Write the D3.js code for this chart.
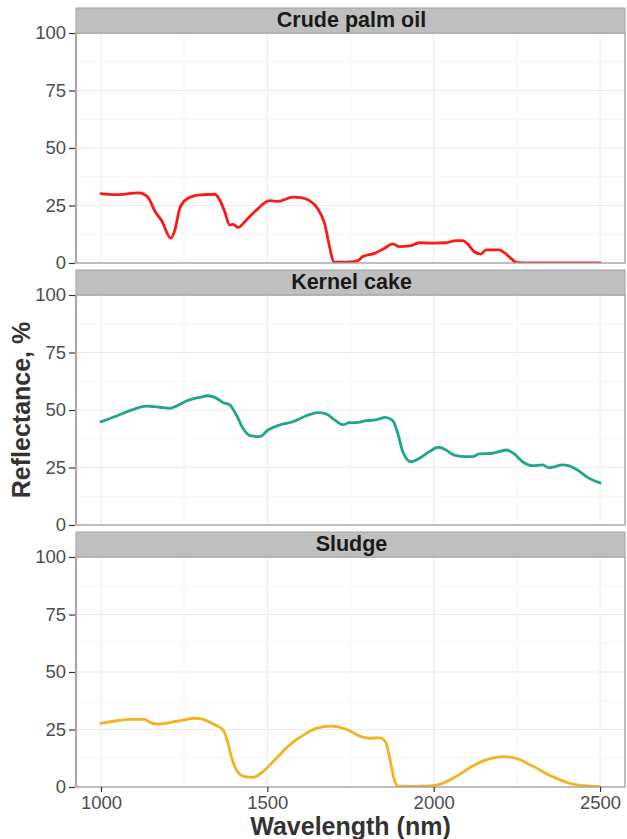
<!DOCTYPE html>
<html>
<head>
<meta charset="utf-8">
<script src="https://cdn.jsdelivr.net/npm/d3@7"></script>
<style>
  html, body { margin: 0; padding: 0; background: #fff; }
  svg { display: block; font-family: "Liberation Sans", Arial, sans-serif; }
</style>
</head>
<body>
<svg id="chart" width="627" height="839"></svg>
<script>
// Reflectance spectra (%) by wavelength (nm) for three palm oil mill samples
const panelNames = ["Crude palm oil", "Kernel cake", "Sludge"];
const panelColors = ["#fb1a17", "#20a68b", "#f2b321"];

const cpoWavelength = [1000, 1040, 1115, 1140, 1165, 1182, 1210, 1222, 1237, 1257, 1297, 1342, 1357, 1372, 1387, 1397, 1412, 1437, 1467, 1507, 1532, 1577, 1600, 1627, 1652, 1672, 1687, 1700, 1745, 1772, 1787, 1822, 1852, 1877, 1897, 1927, 1957, 1997, 2037, 2067, 2087, 2102, 2122, 2142, 2157, 2197, 2212, 2232, 2250, 2300, 2400, 2500];
const cpoReflectance = [30.2, 29.7, 30.5, 28.8, 21.8, 18.5, 10.8, 14.3, 23.8, 27.7, 29.6, 29.9, 27.4, 22.3, 16.5, 16.8, 15.5, 18.7, 23.0, 27.1, 26.8, 28.6, 28.4, 27.1, 23.5, 17.2, 7.1, 0.4, 0.4, 1.0, 2.8, 4.2, 6.4, 8.3, 7.1, 7.4, 8.8, 8.6, 8.8, 9.7, 9.7, 8.3, 4.9, 3.9, 5.7, 5.7, 4.5, 2.0, 0.2, 0, 0, 0];

const kcWavelength = [1000, 1047, 1087, 1137, 1177, 1207, 1227, 1257, 1297, 1322, 1342, 1367, 1387, 1407, 1427, 1452, 1477, 1502, 1537, 1577, 1617, 1652, 1677, 1702, 1727, 1747, 1767, 1797, 1827, 1855, 1877, 1892, 1907, 1932, 1957, 1987, 2015, 2037, 2062, 2097, 2117, 2137, 2177, 2219, 2242, 2267, 2297, 2327, 2347, 2387, 2407, 2432, 2462, 2500];
const kcReflectance = [44.9, 47.4, 49.7, 51.7, 51.2, 50.7, 51.7, 53.9, 55.5, 56.2, 55.5, 53.3, 52.2, 47.8, 42.0, 38.7, 38.4, 41.3, 43.5, 44.9, 47.5, 48.9, 48.3, 45.7, 43.6, 44.5, 44.5, 45.4, 45.7, 46.8, 45.4, 39.9, 31.9, 27.5, 29.0, 31.9, 33.8, 32.6, 30.4, 29.7, 29.7, 30.9, 31.2, 32.6, 30.9, 27.5, 25.8, 26.1, 24.9, 26.1, 25.7, 23.9, 20.7, 18.3];

const slWavelength = [1000, 1047, 1087, 1132, 1147, 1167, 1207, 1247, 1282, 1307, 1337, 1367, 1382, 1392, 1407, 1432, 1457, 1487, 1522, 1567, 1617, 1647, 1692, 1737, 1782, 1807, 1837, 1855, 1867, 1882, 1892, 1950, 1997, 2027, 2067, 2117, 2167, 2212, 2247, 2297, 2357, 2417, 2467, 2500];
const slReflectance = [27.7, 28.8, 29.4, 29.4, 28.1, 27.4, 28.0, 29.1, 29.9, 29.4, 27.4, 24.8, 19.0, 13.2, 7.4, 4.5, 4.2, 6.7, 11.7, 18.3, 23.3, 25.5, 26.5, 25.1, 21.9, 21.2, 21.4, 19.7, 13.2, 3.0, 0.4, 0.3, 0.6, 1.6, 4.5, 9.1, 12.2, 13.2, 12.5, 9.1, 4.5, 1.3, 0.4, 0.2];

const xTicks = [1000, 1500, 2000, 2500];
const xMinorTicks = [1250, 1750, 2250];
const yTicks = [0, 25, 50, 75, 100];
const yMinorTicks = [12.5, 37.5, 62.5, 87.5];

const series = [
  { w: cpoWavelength, r: cpoReflectance },
  { w: kcWavelength, r: kcReflectance },
  { w: slWavelength, r: slReflectance }
];

const svg = d3.select("#chart");
const left = 76, right = 625;
const stripH = 25, plotH = 230, panelStep = 262, top0 = 8;
const tickFont = 18.5;

const x = d3.scaleLinear().domain([925, 2575]).range([left, right]);

panelNames.forEach((name, i) => {
  const stripTop = top0 + i * panelStep;
  const pTop = stripTop + stripH;
  const pBot = pTop + plotH;
  const y = d3.scaleLinear().domain([0, 100]).range([pBot, pTop]);
  const g = svg.append("g");

  // strip
  g.append("rect").attr("x", left).attr("y", stripTop).attr("width", right - left).attr("height", stripH)
    .attr("fill", "#bfbfbf").attr("stroke", "#a3a3a3").attr("stroke-width", 1);
  g.append("text").attr("x", (left + right) / 2 + 1).attr("y", stripTop + 19)
    .attr("text-anchor", "middle").attr("font-weight", "bold").attr("font-size", 21.5)
    .attr("fill", "#1a1a1a").text(name);

  // grid
  g.selectAll(".ymin").data(yMinorTicks).join("line")
    .attr("x1", left).attr("x2", right).attr("y1", d => y(d)).attr("y2", d => y(d))
    .attr("stroke", "#f4f4f4").attr("stroke-width", 0.8);
  g.selectAll(".xmin").data(xMinorTicks).join("line")
    .attr("y1", pTop).attr("y2", pBot).attr("x1", d => x(d)).attr("x2", d => x(d))
    .attr("stroke", "#f4f4f4").attr("stroke-width", 0.8);
  g.selectAll(".ymaj").data(yTicks).join("line")
    .attr("x1", left).attr("x2", right).attr("y1", d => y(d)).attr("y2", d => y(d))
    .attr("stroke", "#ebebeb").attr("stroke-width", 1);
  g.selectAll(".xmaj").data(xTicks).join("line")
    .attr("y1", pTop).attr("y2", pBot).attr("x1", d => x(d)).attr("x2", d => x(d))
    .attr("stroke", "#ebebeb").attr("stroke-width", 1);

  // clip and line
  const clipId = "clip" + i;
  svg.append("clipPath").attr("id", clipId).append("rect")
    .attr("x", left).attr("y", pTop).attr("width", right - left).attr("height", plotH);
  const s = series[i];
  const pts = s.w.map((w, k) => [w, s.r[k]]);
  const line = d3.line().x(d => x(d[0])).y(d => y(d[1])).curve(d3.curveMonotoneX);
  g.append("path").datum(pts).attr("clip-path", `url(#${clipId})`)
    .attr("d", line).attr("fill", "none").attr("stroke", panelColors[i])
    .attr("stroke-width", 2.8).attr("stroke-linejoin", "round").attr("stroke-linecap", "round");

  // panel border
  g.append("rect").attr("x", left).attr("y", pTop).attr("width", right - left).attr("height", plotH)
    .attr("fill", "none").attr("stroke", "#a0a0a0").attr("stroke-width", 1.3);
  g.append("line").attr("x1", left).attr("x2", left).attr("y1", pTop).attr("y2", pBot)
    .attr("stroke", "#a8a8a8").attr("stroke-width", 2.2);

  // y axis
  const yAxis = d3.axisLeft(y).tickValues(yTicks).tickSize(6).tickPadding(3);
  const ya = svg.append("g").attr("transform", `translate(${left - 1},0)`).call(yAxis);
  ya.select(".domain").remove();
  ya.selectAll(".tick line").attr("stroke", "#333").attr("stroke-width", 1.2);
  ya.selectAll(".tick text").attr("font-size", tickFont).attr("fill", "#4d4d4d")
    .attr("font-family", "Liberation Sans, Arial, sans-serif");

  if (i === panelNames.length - 1) {
    const xAxis = d3.axisBottom(x).tickValues(xTicks).tickFormat(d3.format("d")).tickSize(5).tickPadding(4);
    const xa = svg.append("g").attr("transform", `translate(0,${pBot})`).call(xAxis);
    xa.select(".domain").remove();
    xa.selectAll(".tick line").attr("stroke", "#333").attr("stroke-width", 1.2);
    xa.selectAll(".tick text").attr("font-size", tickFont).attr("fill", "#4d4d4d")
      .attr("font-family", "Liberation Sans, Arial, sans-serif");
  }
});

// axis titles
svg.append("text").attr("x", (left + right) / 2).attr("y", 835)
  .attr("text-anchor", "middle").attr("font-weight", "bold").attr("font-size", 25)
  .attr("fill", "#333").text("Wavelength (nm)");
svg.append("text").attr("transform", "translate(30,410) rotate(-90)")
  .attr("text-anchor", "middle").attr("font-weight", "bold").attr("font-size", 25)
  .attr("fill", "#333").text("Reflectance, %");
</script>
</body>
</html>
